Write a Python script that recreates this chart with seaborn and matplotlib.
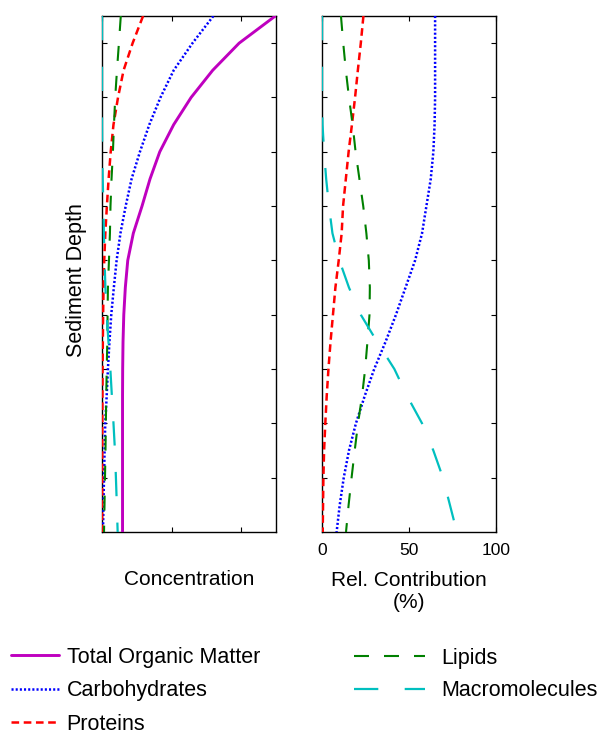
import matplotlib.pyplot as plt
import seaborn as sns

# sediment depth (arbitrary units, 0 = sediment surface)
depth = [0.0, 0.5, 1.0, 1.5, 2.0, 2.5, 3.0, 3.5, 4.0, 4.5,
         5.0, 5.5, 6.0, 6.5, 7.0, 7.5, 8.0, 8.5, 9.0, 9.5]

# left panel: concentrations
tom_conc = [2.49, 1.97, 1.59, 1.28, 1.03, 0.83, 0.69, 0.575, 0.45, 0.37,
            0.335, 0.313, 0.302, 0.297, 0.295, 0.295, 0.295, 0.295, 0.295, 0.295]
carb_conc = [1.60, 1.30, 1.03, 0.84, 0.68, 0.545, 0.425, 0.34, 0.265, 0.21,
             0.17, 0.133, 0.107, 0.085, 0.067, 0.047, 0.037, 0.029, 0.021, 0.014]
prot_conc = [0.59, 0.44, 0.31, 0.23, 0.165, 0.125, 0.095, 0.07, 0.048, 0.032,
             0.022, 0.016, 0.012, 0.008, 0.006, 0.004, 0.003, 0.002, 0.0015, 0.001]
lip_conc = [0.27, 0.243, 0.215, 0.19, 0.172, 0.157, 0.137, 0.122, 0.114, 0.10,
            0.085, 0.08, 0.076, 0.068, 0.061, 0.055, 0.05, 0.043, 0.036, 0.029]
mac_conc = [0.0, 0.0, 0.0, 0.0, 0.0, 0.003, 0.01, 0.02, 0.027, 0.037,
            0.049, 0.067, 0.093, 0.12, 0.142, 0.165, 0.186, 0.2, 0.213, 0.225]

# right panel: relative contribution (%)
carb_pct = [65, 65, 65, 65, 64.7, 64, 62.5, 60, 57.5, 53.5,
            48, 42.5, 36.5, 30, 24.5, 19.5, 15.5, 12.5, 10.2, 8.4]
prot_pct = [23.8, 22.3, 20.6, 19, 17.2, 15.3, 13.7, 12.1, 11.3, 9.6,
            7.7, 6.3, 4.9, 3.7, 2.7, 1.9, 1.2, 0.8, 0.6, 0.4]
lip_pct = [10.9, 12.2, 13.7, 15.5, 17.6, 19.3, 21.5, 23.7, 25.5, 26.9,
           27.5, 27.3, 26.1, 24.8, 23, 20.7, 18.8, 17, 15.3, 13.8]
mac_pct = [0, 0, 0, 0, 0.3, 1.2, 2.4, 4.0, 6.0, 10,
           15.5, 22.3, 31.7, 41.6, 49, 57.5, 64, 69.5, 73.5, 77.5]

depth_ticks = [0.5, 1.5, 2.5, 3.5, 4.5, 5.5, 6.5, 7.5, 8.5]

sns.set_style("ticks")
plt.rcParams['font.family'] = ['Liberation Sans', 'DejaVu Sans']
plt.rcParams['lines.scale_dashes'] = False
plt.rcParams['text.color'] = 'black'
plt.rcParams['xtick.color'] = 'black'
plt.rcParams['ytick.color'] = 'black'
plt.rcParams['axes.labelcolor'] = 'black'

# name, colour, linestyle, linewidth
styles = {
    'Total Organic Matter': ('#bf00bf', '-', 2.1),
    'Carbohydrates': ('#0000ff', (0, (1.5, 1.5)), 1.8),
    'Proteins': ('#ff0000', (0, (5.5, 3.3)), 1.8),
    'Lipids': ('#008000', (0, (10.8, 10.8)), 1.5),
    'Macromolecules': ('#00bfbf', (0, (17.5, 19)), 1.6),
}

fig = plt.figure(figsize=(5.97, 7.38), dpi=100)
ax1 = fig.add_axes([102 / 597, 1 - 532 / 738, 174 / 597, 516 / 738])
ax2 = fig.add_axes([322 / 597, 1 - 532 / 738, 174 / 597, 516 / 738])

left_series = [('Total Organic Matter', tom_conc), ('Carbohydrates', carb_conc),
               ('Proteins', prot_conc), ('Lipids', lip_conc), ('Macromolecules', mac_conc)]
right_series = [('Carbohydrates', carb_pct), ('Proteins', prot_pct),
                ('Lipids', lip_pct), ('Macromolecules', mac_pct)]

for name, vals in left_series:
    c, ls, lw = styles[name]
    sns.lineplot(x=vals, y=depth, sort=False, estimator=None, color=c, linestyle=ls,
                 linewidth=lw, label=name, legend=False, zorder=3, ax=ax1)

for name, vals in right_series:
    c, ls, lw = styles[name]
    sns.lineplot(x=vals, y=depth, sort=False, estimator=None, color=c, linestyle=ls,
                 linewidth=lw, legend=False, zorder=3, ax=ax2)

for ax in (ax1, ax2):
    ax.set_ylim(9.5, 0)
    ax.set_yticks(depth_ticks)
    ax.set_yticklabels([])
    ax.tick_params(direction='in', top=True, right=True, length=3.3, width=0.8,
                   labelsize=12.5, pad=8)
    for sp in ax.spines.values():
        sp.set_visible(True)
        sp.set_linewidth(1.0)
        sp.set_color('black')

ax1.set_xlim(0, 2.5)
ax1.set_xticks([0, 1, 2])
ax1.set_xticklabels([])
ax2.set_xlim(0, 100)
ax2.set_xticks([0, 50, 100])

ax1.set_ylabel('Sediment Depth', fontsize=15.5)
ax1.yaxis.set_label_coords(-0.086, 0.488)
ax1.set_xlabel('Concentration', fontsize=15)
ax1.xaxis.set_label_coords(0.5, -0.074)
ax2.set_ylabel('')
ax2.set_xlabel('Rel. Contribution\n(%)', fontsize=15, linespacing=1.2)
ax2.xaxis.set_label_coords(0.5, -0.075)

handles, labels = ax1.get_legend_handles_labels()
fig.legend(handles[:3], labels[:3], loc='upper left', bbox_to_anchor=(11 / 597, 1 - 647 / 738),
           frameon=False, fontsize=15.5, handlelength=2.25, handletextpad=0.33,
           labelspacing=0.58, borderpad=0, borderaxespad=0)
fig.legend(handles[3:], labels[3:], loc='upper left', bbox_to_anchor=(354 / 597, 1 - 648 / 738),
           frameon=False, fontsize=15.5, handlelength=3.3, handletextpad=0.75,
           labelspacing=0.52, borderpad=0, borderaxespad=0)

fig.savefig('out.png', dpi=100)
